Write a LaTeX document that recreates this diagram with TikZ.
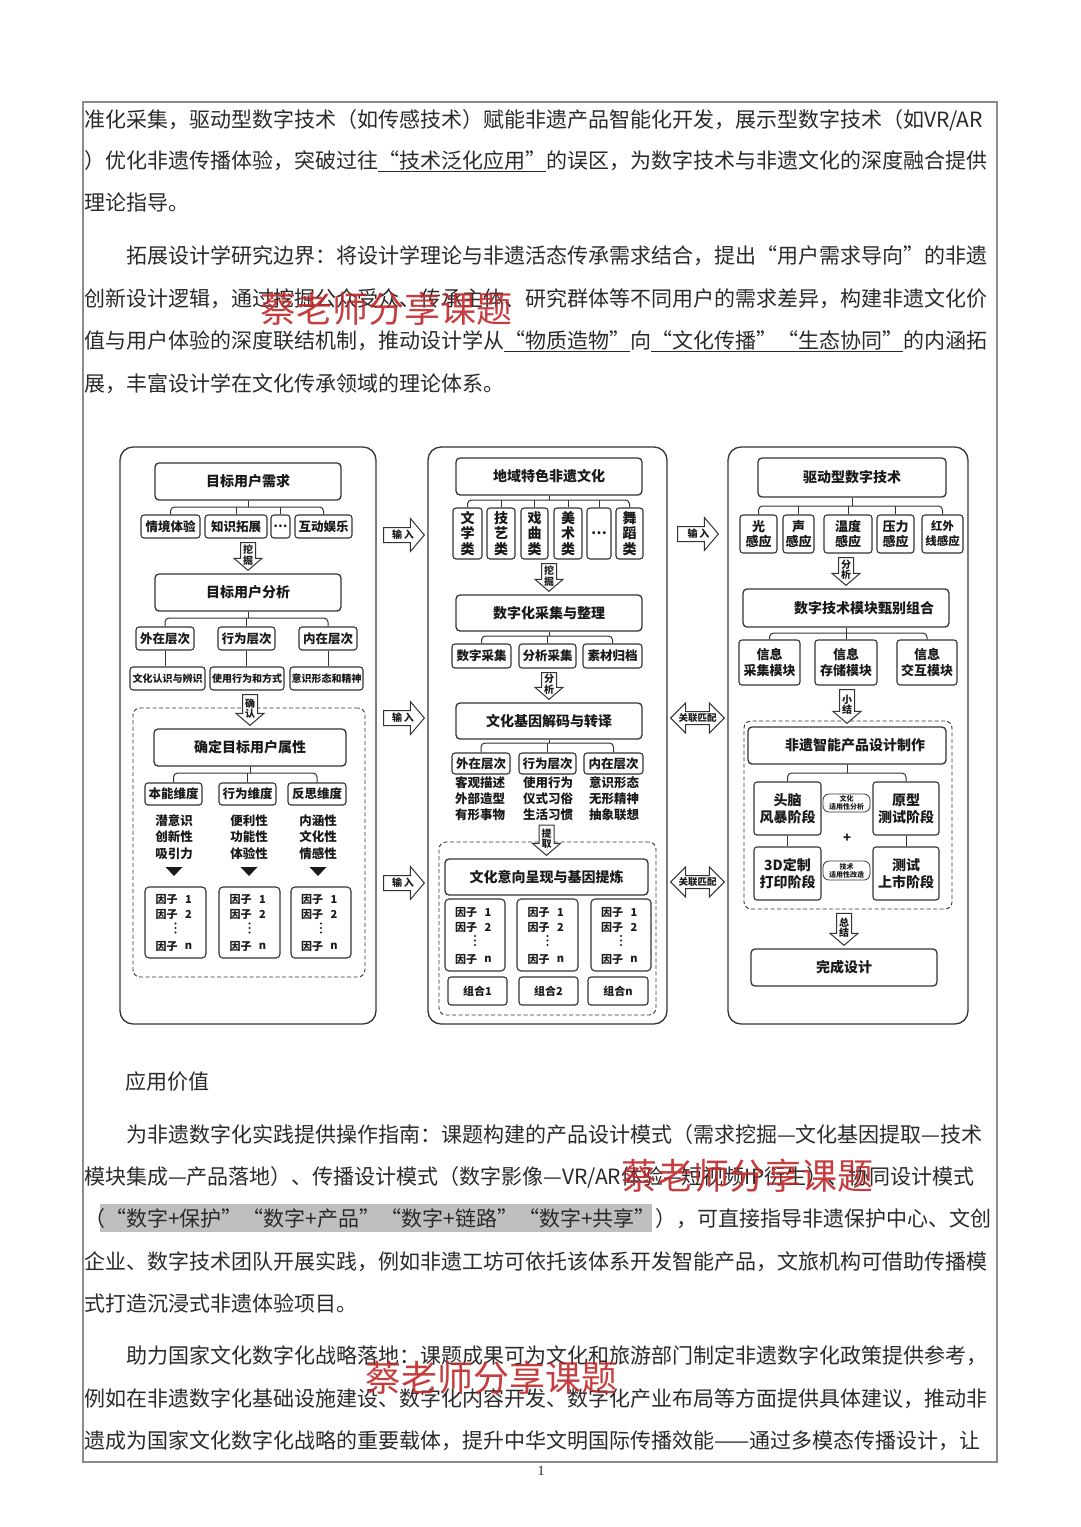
\documentclass[tikz,border=0pt]{standalone}
\usepackage{fontspec}
\setmainfont{Noto Sans CJK SC}
\newfontfamily\serifnum{Liberation Serif}
\usetikzlibrary{calc}
\XeTeXlinebreaklocale "zh"
\XeTeXlinebreakskip=0pt plus 3pt
\definecolor{lc}{HTML}{333333}
\definecolor{tc}{HTML}{1A1A1A}
\definecolor{bodyc}{HTML}{2A2A2A}
\definecolor{wmc}{HTML}{C0282A}
\tikzset{
 sz/.style 2 args={minimum width=#1, minimum height=#2},
 panel/.style={draw=lc, line width=1.3pt, rounded corners=13pt, inner sep=0},
 dgrp/.style={draw=lc, line width=0.9pt, dash pattern=on 4pt off 2.5pt, rounded corners=7pt, inner sep=0},
 tbox/.style={draw=lc, line width=1.3pt, rounded corners=4pt, inner sep=0, text=tc, font=\bfseries\fontsize{14}{16}\selectfont},
 sbox/.style={draw=lc, line width=1.1pt, rounded corners=3pt, inner sep=0, text=tc, align=center, font=\bfseries\fontsize{12.5}{14}\selectfont},
 xbox/.style={sbox, font=\bfseries\fontsize{10}{12}\selectfont},
 vbox/.style={sbox, font=\bfseries\fontsize{14}{15.5}\selectfont},
 mbox/.style={sbox, font=\bfseries\fontsize{13}{15.5}\selectfont},
 qbox/.style={sbox, font=\bfseries\fontsize{14}{17}\selectfont},
 pill/.style={draw=lc, line width=0.8pt, rounded corners=6pt, inner sep=0, align=center, text=tc, font=\bfseries\fontsize{7}{8}\selectfont},
 fbox/.style={draw=lc, line width=1.1pt, rounded corners=4pt, inner sep=0},
 ftxt/.style={inner sep=0, text=tc, font=\bfseries\fontsize{11}{12}\selectfont},
 ctxt/.style={inner sep=0, text=tc, align=center, font=\bfseries\fontsize{12.5}{16.5}\selectfont},
 conn/.style={draw=lc, line width=1pt},
 harr/.style={draw=lc, fill=white, line width=1pt, line join=miter},
 arrtxt/.style={inner sep=0, text=tc, align=center, font=\bfseries\fontsize{10}{10.5}\selectfont},
 body/.style={inner sep=0, anchor=base west, text=bodyc, font=\fontsize{21}{21}\selectfont},
 wm/.style={inner sep=0, text=wmc, opacity=0.9, font=\fontsize{36}{36}\selectfont},
}
% justified and plain body lines
\newcommand\jl[3][84]{\node[body] (l#2) at (#1,#2) {\makebox[\dimexpr993pt-#1pt\relax][s]{#3}};}
\newcommand\nl[3][84]{\node[body] (l#2) at (#1,#2) {#3};}
% fork connector: parent, bar y, first child, last child, middle children
\newcommand\fork[5]{%
 \coordinate (fy) at (0,#2);
 \draw[conn] (#1.south) -- (#1.south |- fy);
 \draw[conn, rounded corners=4pt] (#3.north) -- (#3.north |- fy) -- (#4.north |- fy) -- (#4.north);
 \foreach \ch in {#5} {\draw[conn] (\ch.north) -- (\ch.north |- fy);}
}
% hollow down arrow: name, top node, bottom node, text
\newcommand\hdown[4]{%
 \draw[harr] let \p1=(#2.south), \p2=(#3.north), \p3=($(\p1)!0.5!(\p2)$) in
  (\x2-7.5pt,\y1-4pt) -- (\x2+7.5pt,\y1-4pt) -- (\x2+7.5pt,\y2+15pt) -- (\x2+14pt,\y2+15pt)
  -- (\x2,\y2+3pt) -- (\x2-14pt,\y2+15pt) -- (\x2-7.5pt,\y2+15pt) -- cycle
  node[arrtxt] (#1) at (\x2,\y3+1pt) {#4};
}
% hollow right arrow: name, left node, right node, y, left gap, right gap, text
\newcommand\hright[7]{%
 \draw[harr] let \p1=(#2.east), \p2=(#3.west), \p3=(0,#4), \p4=($(\x1,\y3)!0.5!(\x2,\y3)$) in
  (\x1+#5pt,\y3+7.5pt) -- (\x2-#6pt-14pt,\y3+7.5pt) -- (\x2-#6pt-14pt,\y3+16.5pt) -- (\x2-#6pt,\y3)
  -- (\x2-#6pt-14pt,\y3-16.5pt) -- (\x2-#6pt-14pt,\y3-7.5pt) -- (\x1+#5pt,\y3-7.5pt) -- cycle
  node[arrtxt] (#1) at (\x4+1pt,\y4) {#7};
}
% hollow double arrow: name, left node, right node, y, text
\newcommand\hdouble[5]{%
 \draw[harr] let \p1=(#2.east), \p2=(#3.west), \p3=(0,#4), \p4=($(\x1,\y3)!0.5!(\x2,\y3)$) in
  (\x1+3pt,\y3) -- (\x1+18pt,\y3+15pt) -- (\x1+18pt,\y3+6.5pt) -- (\x2-18pt,\y3+6.5pt) -- (\x2-18pt,\y3+15pt)
  -- (\x2-3pt,\y3) -- (\x2-18pt,\y3-15pt) -- (\x2-18pt,\y3-6.5pt) -- (\x1+18pt,\y3-6.5pt) -- (\x1+18pt,\y3-15pt) -- cycle
  node[arrtxt, font=\bfseries\fontsize{9.5}{10}\selectfont] (#1) at (\x4,\y4) {#5};
}
% factor list inside a box
\newcommand\factors[1]{%
 \node[ftxt] (#1a) at ($(#1.center)+(-9,-23)$) {因子};
 \node[ftxt] (#1b) at ($(#1.center)+(13,-23)$) {1};
 \node[ftxt] (#1c) at ($(#1.center)+(-9,-8)$) {因子};
 \node[ftxt] (#1d) at ($(#1.center)+(13,-8)$) {2};
 \foreach \dy in {1,5.5,10} {\fill[tc] ($(#1.center)+(0,\dy)$) circle (1.2);}
 \node[ftxt] (#1f) at ($(#1.center)+(-9,24)$) {因子};
 \node[ftxt] (#1g) at ($(#1.center)+(13,24)$) {n};
}
\begin{document}
\begin{tikzpicture}[x=1pt,y=-1pt]
\useasboundingbox (0,0) rectangle (1080,1527);
\fill[white] (0,0) rectangle (1080,1527);
\draw[black!45, line width=1.3pt] (83,102) rectangle (997,1462);
\fill[black!25] (100,1204) rectangle (652,1232);

% ---------- body text ----------
\nl{127}{准化采集，驱动型数字技术（如传感技术）赋能非遗产品智能化开发，展示型数字技术（如VR/AR}
\jl{168}{）优化非遗传播体验，突破过往\underline{“技术泛化应用”}的误区，为数字技术与非遗文化的深度融合提供}
\nl{210}{理论指导。}
\jl[126]{263}{拓展设计学研究边界：将设计学理论与非遗活态传承需求结合，提出“用户需求导向”的非遗}
\jl{306}{创新设计逻辑，通过挖掘公众受众、传承主体、研究群体等不同用户的需求差异，构建非遗文化价}
\jl{348}{值与用户体验的深度联结机制，推动设计学从\underline{“物质造物”}向\underline{“文化传播”“生态协同”}的内涵拓}
\nl{391}{展，丰富设计学在文化传承领域的理论体系。}
\nl[125]{1089}{应用价值}
\jl[126]{1142}{为非遗数字化实践提供操作指南：课题构建的产品设计模式（需求挖掘—文化基因提取—技术}
\jl{1184}{模块集成—产品落地）、传播设计模式（数字影像—VR/AR体验—短视频IP衍生）、协同设计模式}
\jl{1226}{（“数字+保护”“数字+产品”“数字+链路”“数字+共享”），可直接指导非遗保护中心、文创}
\jl{1269}{企业、数字技术团队开展实践，例如非遗工坊可依托该体系开发智能产品，文旅机构可借助传播模}
\nl{1311}{式打造沉浸式非遗体验项目。}
\jl[126]{1363}{助力国家文化数字化战略落地：课题成果可为文化和旅游部门制定非遗数字化政策提供参考，}
\jl{1406}{例如在非遗数字化基础设施建设、数字化内容开发、数字化产业布局等方面提供具体建议，推动非}
\jl{1448}{遗成为国家文化数字化战略的重要载体，提升中华文明国际传播效能——通过多模态传播设计，让}
\node[inner sep=0, text=bodyc, font=\serifnum\fontsize{14}{14}\selectfont] (pg) at (541,1471) {1};

% ---------- panels and groups ----------
\node[panel, sz={256}{577}] (pL) at (248,735.5) {};
\node[panel, sz={239}{577}] (pM) at (547.5,735.5) {};
\node[panel, sz={240}{577}] (pR) at (848,735.5) {};
\node[dgrp, sz={232}{269}] (gL) at (249,842.5) {};
\node[dgrp, sz={217}{173}] (gM) at (547.5,928.5) {};
\node[dgrp, sz={208}{188}] (gR) at (848,815) {};

% ---------- left panel ----------
\node[tbox, sz={186}{37}] (need) at (248,481.5) {目标用户需求};
\node[sbox, sz={59}{23}] (n1) at (170.5,526.5) {情境体验};
\node[sbox, sz={62}{23}] (n2) at (236,526.5) {知识拓展};
\node[sbox, sz={19}{23}] (n3) at (280.5,526.5) {…};
\node[sbox, sz={57}{23}] (n4) at (323.5,526.5) {互动娱乐};
\fork{need}{507}{n1}{n4}{n2,n3}
\node[tbox, sz={186}{37}] (ana) at (248,592.5) {目标用户分析};
\node[sbox, sz={58}{23}] (a1) at (165,638.5) {外在层次};
\node[sbox, sz={57}{23}] (a2) at (246.5,638.5) {行为层次};
\node[sbox, sz={58}{23}] (a3) at (328,638.5) {内在层次};
\fork{ana}{618}{a1}{a3}{a2}
\node[xbox, sz={75}{23}] (b1) at (167.5,678.5) {文化认识与辨识};
\node[xbox, sz={74}{23}] (b2) at (247,678.5) {使用行为和方式};
\node[xbox, sz={73}{23}] (b3) at (326.5,678.5) {意识形态和精神};
\draw[conn] (a1.south) -- (a1.south |- b1.north);
\draw[conn] (a2.south) -- (a2.south |- b2.north);
\draw[conn] (a3.south) -- (a3.south |- b3.north);
\node[tbox, sz={192}{37}] (attr) at (250,747.5) {确定目标用户属性};
\node[sbox, sz={57}{22}] (d1) at (173.5,794) {本能维度};
\node[sbox, sz={57}{22}] (d2) at (247.5,794) {行为维度};
\node[sbox, sz={58}{22}] (d3) at (317,794) {反思维度};
\fork{attr}{773}{d1}{d3}{d2}
\node[ctxt] (t1) at (174,837) {潜意识\\创新性\\吸引力};
\node[ctxt] (t2) at (249,837) {便利性\\功能性\\体验性};
\node[ctxt] (t3) at (318,837) {内涵性\\文化性\\情感性};
\foreach \tx in {174,249,318} {\fill[tc] (\tx-8.5,867) -- (\tx+8.5,867) -- (\tx,876) -- cycle;}
\node[fbox, sz={61}{71}] (f1) at (175.5,922.5) {};
\node[fbox, sz={61}{71}] (f2) at (249.5,922.5) {};
\node[fbox, sz={60}{71}] (f3) at (321,922.5) {};
\factors{f1}\factors{f2}\factors{f3}

% ---------- middle panel ----------
\node[tbox, sz={186}{37}] (her) at (549,476.5) {地域特色非遗文化};
\node[vbox, sz={29}{51}] (h1) at (467.5,533.5) {文\\学\\类};
\node[vbox, sz={28}{51}] (h2) at (501,533.5) {技\\艺\\类};
\node[vbox, sz={27}{51}] (h3) at (534.5,533.5) {戏\\曲\\类};
\node[vbox, sz={28}{51}] (h4) at (568,533.5) {美\\术\\类};
\node[vbox, sz={24}{51}] (h5) at (599,533.5) {…};
\node[vbox, sz={27}{51}] (h6) at (629.5,533.5) {舞\\蹈\\类};
\fork{her}{500}{h1}{h6}{h2,h3,h4,h5}
\node[tbox, sz={186}{36}] (col) at (549,613) {数字化采集与整理};
\node[sbox, sz={59}{24}] (c1) at (481.5,656) {数字采集};
\node[sbox, sz={57}{24}] (c2) at (547.5,656) {分析采集};
\node[sbox, sz={59}{24}] (c3) at (612.5,656) {素材归档};
\fork{col}{636}{c1}{c3}{c2}
\node[tbox, sz={186}{36}] (dec) at (549,721) {文化基因解码与转译};
\node[sbox, sz={58}{21}] (e1) at (481,763.5) {外在层次};
\node[sbox, sz={57}{21}] (e2) at (547.5,763.5) {行为层次};
\node[sbox, sz={59}{21}] (e3) at (613.5,763.5) {内在层次};
\fork{dec}{743}{e1}{e3}{e2}
\node[ctxt, font=\bfseries\fontsize{12.5}{16}\selectfont] (g1) at (480,799) {客观描述\\外部造型\\有形事物};
\node[ctxt, font=\bfseries\fontsize{12.5}{16}\selectfont] (g2) at (548,799) {使用行为\\仪式习俗\\生活习惯};
\node[ctxt, font=\bfseries\fontsize{12.5}{16}\selectfont] (g3) at (614,799) {意识形态\\无形精神\\抽象联想};
\node[tbox, sz={203}{36}] (pre) at (546.5,877) {文化意向呈现与基因提炼};
\node[fbox, sz={60}{72}] (m1) at (475,935) {};
\node[fbox, sz={61}{72}] (m2) at (547.5,935) {};
\node[fbox, sz={60}{72}] (m3) at (621,935) {};
\factors{m1}\factors{m2}\factors{m3}
\node[sbox, sz={59}{28}, font=\bfseries\fontsize{11}{12}\selectfont] (k1) at (477.5,991) {组合1};
\node[sbox, sz={59}{28}, font=\bfseries\fontsize{11}{12}\selectfont] (k2) at (548.5,991) {组合2};
\node[sbox, sz={60}{28}, font=\bfseries\fontsize{11}{12}\selectfont] (k3) at (618,991) {组合n};

% ---------- right panel ----------
\node[tbox, sz={188}{39}] (drv) at (852,477.5) {驱动型数字技术};
\node[mbox, sz={37}{38}] (s1) at (758.5,534) {光\\感应};
\node[mbox, sz={31}{38}] (s2) at (798.5,534) {声\\感应};
\node[mbox, sz={48}{38}] (s3) at (848,534) {温度\\感应};
\node[mbox, sz={37}{38}] (s4) at (895.5,534) {压力\\感应};
\node[mbox, sz={41}{38}, font=\bfseries\fontsize{11.5}{15}\selectfont] (s5) at (942.5,534) {红外\\线感应};
\fork{drv}{506}{s1}{s5}{s2,s3,s4}
\node[tbox, sz={206}{38}] (cmb) at (846,608) {\hspace*{36pt}数字技术模块甄别组合};
\node[mbox, sz={61}{45}] (i1) at (769.5,662.5) {信息\\采集模块};
\node[mbox, sz={62}{45}] (i2) at (846,662.5) {信息\\存储模块};
\node[mbox, sz={60}{45}] (i3) at (927,662.5) {信息\\交互模块};
\fork{cmb}{633}{i1}{i3}{i2}
\node[tbox, sz={198}{37}] (mk) at (847,745.5) {\hspace*{16pt}非遗智能产品设计制作};
\node[qbox, sz={67}{53}] (q1) at (787.5,808.5) {头脑\\风暴阶段};
\node[qbox, sz={66}{53}] (q2) at (906,808.5) {原型\\测试阶段};
\node[qbox, sz={67}{53}] (q3) at (787.5,873.5) {3D定制\\打印阶段};
\node[qbox, sz={66}{53}] (q4) at (906,873.5) {测试\\上市阶段};
\coordinate (fyR) at (0,773);
\draw[conn] (mk.south) -- (mk.south |- fyR);
\draw[conn, rounded corners=4pt] (q1.north) -- (q1.north |- fyR) -- (q2.north |- fyR) -- (q2.north);
\draw[conn] (q1) -- (q3);
\draw[conn] (q2) -- (q4);
\node[pill, sz={47}{18}] (p1) at (846.5,803) {文化\\适用性分析};
\node[pill, sz={47}{19}] (p2) at (846.5,870.5) {技术\\适用性改造};
\node[inner sep=0, text=tc, font=\bfseries\fontsize{13}{13}\selectfont] (plus) at (847,838) {+};
\node[tbox, sz={186}{37}] (fin) at (844,967.5) {完成设计};

% ---------- hollow arrows ----------
\hdown{w1}{n2}{ana}{挖\\掘}
\hdown{w2}{b2}{attr}{确\\认}
\hdown{w3}{h3}{col}{挖\\掘}
\hdown{w4}{c2}{dec}{分\\析}
\hdown{w5}{g2}{pre}{提\\取}
\hdown{w6}{s3}{cmb}{分\\析}
\hdown{w7}{i2}{mk}{小\\结}
\hdown{w8}{gR}{fin}{总\\结}
\hright{r1}{pL}{pM}{535}{7}{3}{输\,入}
\hright{r2}{pL}{pM}{718}{7}{3}{输\,入}
\hright{r3}{pL}{pM}{883}{7}{3}{输\,入}
\hright{r4}{pM}{pR}{534}{10}{9}{输\,入}
\hdouble{u1}{pM}{pR}{718}{关联匹配}
\hdouble{u2}{pM}{pR}{882}{关联匹配}

% ---------- watermarks ----------
\node[wm] (wm1) at (386,309) {蔡老师分享课题};
\node[wm] (wm2) at (747,1176) {蔡老师分享课题};
\node[wm] (wm3) at (491,1378) {蔡老师分享课题};
\end{tikzpicture}
\end{document}
